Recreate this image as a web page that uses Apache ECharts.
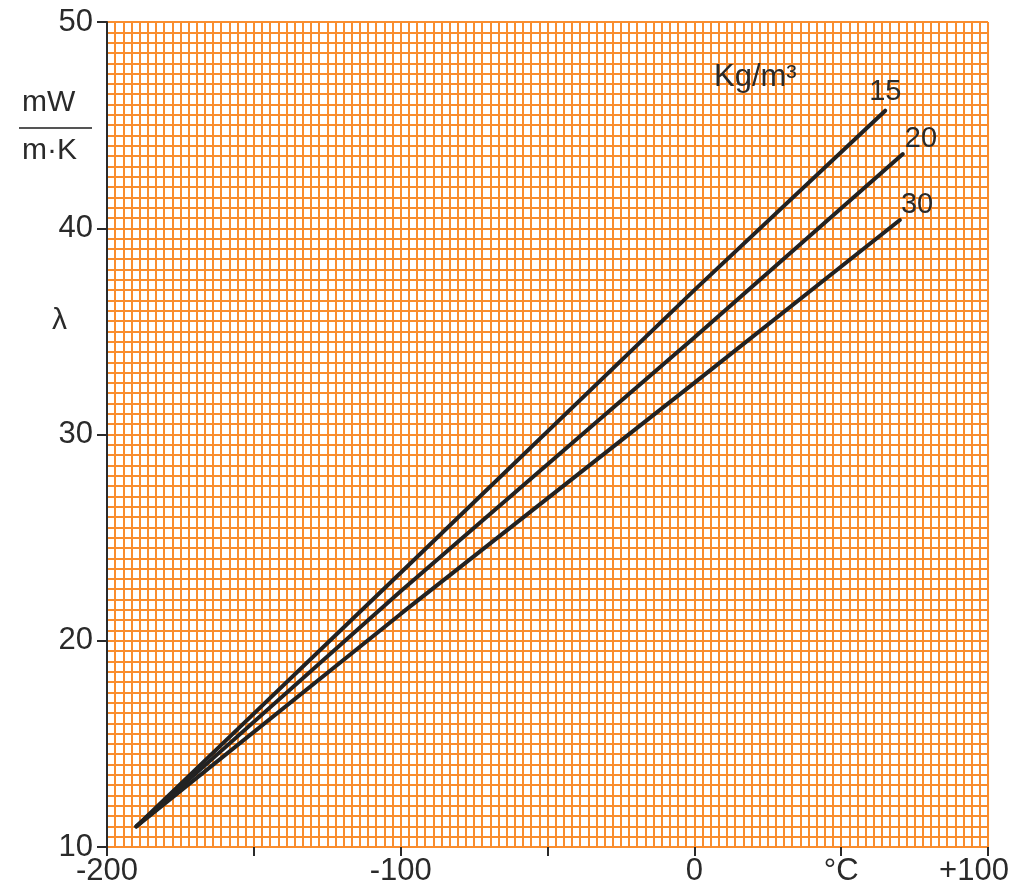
<!DOCTYPE html>
<html>
<head>
<meta charset="utf-8">
<script src="https://cdn.jsdelivr.net/npm/echarts@6/dist/echarts.min.js"></script>
<style>
  html, body { margin: 0; padding: 0; background: #fff; }
  #main { width: 1018px; height: 888px; }
</style>
</head>
<body>
<div id="main"></div>
<script>
// density curves, kg/m3
var densities = ['15', '20', '30']
// temperature points (°C)
var tempPts = [
  [-190, -100, 0, 65],
  [-190, -100, 0, 71],
  [-190, -100, 0, 70]
]
// lambda values (mW/m·K)
var lambdaPts = [
  [11, 23.3, 37.0, 45.7],
  [11, 22.4, 34.7, 43.6],
  [11, 21.3, 32.5, 40.4]
]
var xLabels = { '-200': '-200', '-100': '-100', '0': '0', '50': '°C', '100': '{r|+100}' }

var font = '"Liberation Sans", Arial, sans-serif'
var gridOrange = '#f98d2e'
var ink = '#2a2a2a'

var labelOffsets = [[-24, -19], [-6, -15], [-7, -15]]

var series = densities.map(function (d, k) {
  return {
    type: 'line',
    name: d,
    data: tempPts[k].map(function (t, i) { return [t, lambdaPts[k][i]] }),
    symbol: 'none',
    lineStyle: { color: '#222', width: 4, cap: 'round' },
    endLabel: {
      show: true,
      formatter: '{a}',
      color: ink,
      fontFamily: font,
      fontSize: 29,
      offset: labelOffsets[k]
    },
    z: 5
  }
})

var chart = echarts.init(document.getElementById('main'))
chart.setOption({
  animation: false,
  backgroundColor: '#fff',
  grid: { left: 107, top: 22, right: 30, bottom: 41, containLabel: false },
  xAxis: {
    type: 'value',
    min: -200,
    max: 100,
    interval: 50,
    axisLine: { show: false },
    axisTick: { show: true, length: 9, lineStyle: { color: ink, width: 2 } },
    axisLabel: {
      color: ink,
      fontFamily: font,
      fontSize: 31,
      margin: 9,
      formatter: function (v) { return xLabels[String(v)] || '' },
      rich: { r: { fontFamily: font, fontSize: 31, color: ink, padding: [0, 28, 0, 0] } }
    },
    splitLine: { show: true, lineStyle: { color: gridOrange, width: 2 } },
    minorTick: { show: false, splitNumber: 18 },
    minorSplitLine: { show: true, lineStyle: { color: gridOrange, width: 2 } }
  },
  yAxis: {
    type: 'value',
    min: 10,
    max: 50,
    interval: 10,
    axisLine: { show: true, onZero: false, lineStyle: { color: ink, width: 2 } },
    axisTick: { show: true, length: 10, lineStyle: { color: ink, width: 2 } },
    axisLabel: { color: ink, fontFamily: font, fontSize: 31, margin: 14 },
    splitLine: { show: true, lineStyle: { color: gridOrange, width: 2 } },
    minorTick: { show: false, splitNumber: 20 },
    minorSplitLine: { show: true, lineStyle: { color: gridOrange, width: 2 } }
  },
  graphic: [
    { type: 'text', left: 22, top: 88, z: 10,
      style: { text: 'mW', font: '30px ' + font, fill: ink } },
    { type: 'line', z: 10,
      shape: { x1: 19, y1: 128, x2: 92, y2: 128 },
      style: { stroke: '#555', lineWidth: 2 } },
    { type: 'text', left: 22, top: 136, z: 10,
      style: { text: 'm·K', font: '30px ' + font, fill: ink } },
    { type: 'text', left: 52, top: 306, z: 10,
      style: { text: 'λ', font: '30px ' + font, fill: ink } },
    { type: 'text', left: 714, top: 62, z: 10,
      style: { text: 'Kg/m³', font: '31px ' + font, fill: ink } }
  ],
  series: series
})
</script>
</body>
</html>
